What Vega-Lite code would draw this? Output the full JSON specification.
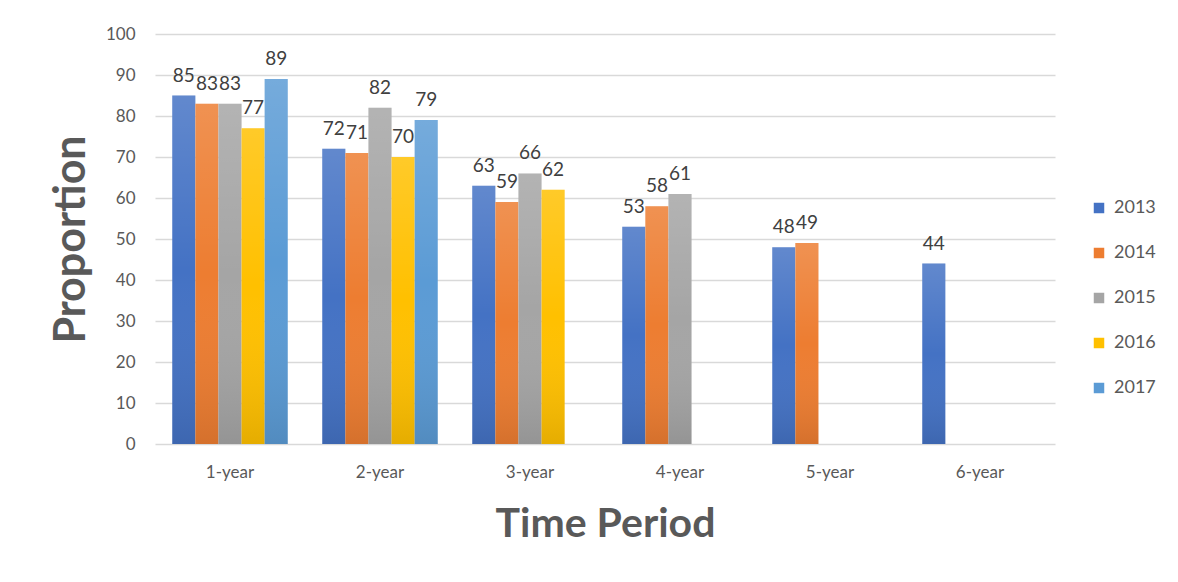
{
  "$schema": "https://vega.github.io/schema/vega-lite/v6.json",
  "width": 900,
  "height": 410,
  "autosize": "none",
  "padding": {"left": 155, "top": 34, "right": 123, "bottom": 138},
  "background": "white",
  "config": {
    "font": "Lato",
    "view": {"stroke": null},
    "axis": {"labelColor": "#595959", "titleColor": "#595959", "gridColor": "#D9D9D9", "gridWidth": 1.3}
  },
  "data": {
    "values": [
      {"period": "1-year", "year": "2013", "value": 85},
      {"period": "1-year", "year": "2014", "value": 83},
      {"period": "1-year", "year": "2015", "value": 83},
      {"period": "1-year", "year": "2016", "value": 77},
      {"period": "1-year", "year": "2017", "value": 89},
      {"period": "2-year", "year": "2013", "value": 72},
      {"period": "2-year", "year": "2014", "value": 71},
      {"period": "2-year", "year": "2015", "value": 82},
      {"period": "2-year", "year": "2016", "value": 70},
      {"period": "2-year", "year": "2017", "value": 79},
      {"period": "3-year", "year": "2013", "value": 63},
      {"period": "3-year", "year": "2014", "value": 59},
      {"period": "3-year", "year": "2015", "value": 66},
      {"period": "3-year", "year": "2016", "value": 62},
      {"period": "4-year", "year": "2013", "value": 53},
      {"period": "4-year", "year": "2014", "value": 58},
      {"period": "4-year", "year": "2015", "value": 61},
      {"period": "5-year", "year": "2013", "value": 48},
      {"period": "5-year", "year": "2014", "value": 49},
      {"period": "6-year", "year": "2013", "value": 44}
    ]
  },
  "encoding": {
    "x": {
      "field": "period",
      "type": "nominal",
      "sort": null,
      "scale": {"paddingInner": 0.23, "paddingOuter": 0.115},
      "axis": {
        "title": "Time Period",
        "titleFontSize": 41,
        "titleFontWeight": "bold",
        "titlePadding": 24,
        "labelAngle": 0,
        "labelFontSize": 17,
        "labelPadding": 20,
        "ticks": false,
        "domain": false
      }
    },
    "xOffset": {
      "field": "year",
      "type": "nominal",
      "scale": {"domain": ["2013", "2014", "2015", "2016", "2017"], "paddingInner": 0, "paddingOuter": 0}
    },
    "y": {
      "field": "value",
      "type": "quantitative",
      "scale": {"domain": [0, 100]},
      "axis": {
        "title": "Proportion",
        "titleFontSize": 43,
        "titleFontWeight": "bold",
        "titlePadding": 12,
        "values": [0, 10, 20, 30, 40, 50, 60, 70, 80, 90, 100],
        "labelOverlap": false,
        "labelFontSize": 17,
        "labelPadding": 20,
        "ticks": false,
        "domain": false
      }
    }
  },
  "layer": [
    {
      "mark": {"type": "bar"},
      "encoding": {
        "color": {
          "field": "year",
          "type": "nominal",
          "scale": {
            "domain": ["2013", "2014", "2015", "2016", "2017"],
            "range": ["#4472C4", "#ED7D31", "#A5A5A5", "#FFC000", "#5B9BD5"]
          },
          "legend": {
            "title": null,
            "orient": "none",
            "legendX": 935,
            "legendY": 165,
            "symbolType": "square",
            "symbolSize": 110,
            "symbolStrokeWidth": 0,
            "labelFontSize": 18,
            "labelColor": "#595959",
            "labelOffset": 6,
            "rowPadding": 27
          }
        }
      }
    },
    {
      "mark": {
        "type": "bar",
        "fill": {
          "gradient": "linear",
          "x1": 0, "y1": 0, "x2": 0, "y2": 1,
          "stops": [
            {"offset": 0, "color": "rgba(255,255,255,0.16)"},
            {"offset": 0.5, "color": "rgba(255,255,255,0)"},
            {"offset": 1, "color": "rgba(0,0,0,0.1)"}
          ]
        }
      }
    },
    {
      "mark": {"type": "text", "baseline": "bottom", "dy": -10, "fontSize": 19, "color": "#404040"},
      "encoding": {"text": {"field": "value", "type": "quantitative"}}
    }
  ]
}
